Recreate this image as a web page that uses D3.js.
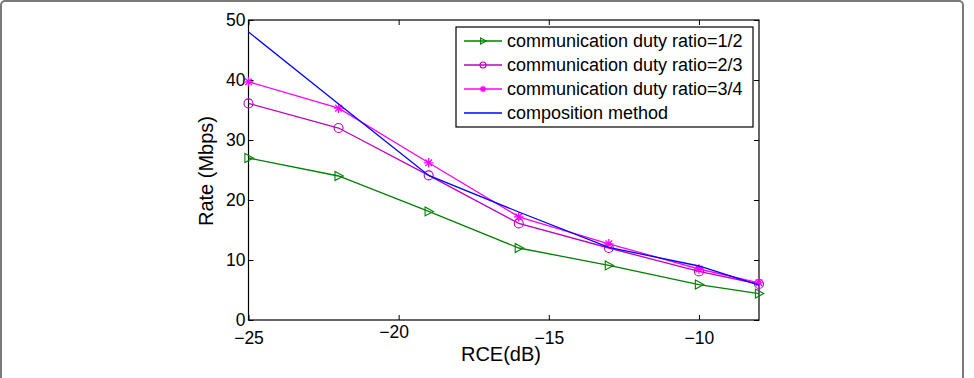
<!DOCTYPE html>
<html>
<head>
<meta charset="utf-8">
<script src="https://cdn.jsdelivr.net/npm/d3@7"></script>
<style>
  body { margin: 0; background: #fff; }
  text { font-family: "Liberation Sans", Arial, Helvetica, sans-serif; fill: #000; }
</style>
</head>
<body>
<div id="main"></div>
<script>
const ctx = {
    SVG_W: 974,
    SVG_H: 378,
};

// data
const rceDb = [-25, -22, -19, -16, -13, -10, -8];
const ratioHalf = [27, 24, 18.1, 12, 9.1, 5.9, 4.4];
const ratioTwoThirds = [36.1, 32, 24.1, 16.1, 12, 8.1, 6];
const ratioThreeQuarters = [39.7, 35.3, 26.2, 17.2, 12.7, 8.5, 6.2];
const composition = [48, 36, 24.1, 18, 12.1, 9, 5.8];
const xTicks = [-25, -20, -15, -10];
const yTicks = [0, 10, 20, 30, 40, 50];
const seriesNames = ["communication duty ratio=1/2", "communication duty ratio=2/3", "communication duty ratio=3/4", "composition method"];

const series = [
    { name: seriesNames[0], values: ratioHalf, color: "#008000", marker: "tri" },
    { name: seriesNames[1], values: ratioTwoThirds, color: "#bf00bf", marker: "circle" },
    { name: seriesNames[2], values: ratioThreeQuarters, color: "#ff00ff", marker: "star" },
    { name: seriesNames[3], values: composition, color: "#0000ff", marker: null },
];

function drawMarker(g, type, x, y, color, s) {
    if (type === "tri") {
        g.append("path")
            .attr("d", `M${x - s * 0.6},${y - s * 0.75}L${x + s * 0.8},${y}L${x - s * 0.6},${y + s * 0.75}Z`)
            .attr("fill", "none").attr("stroke", color).attr("stroke-width", 1.1);
    } else if (type === "circle") {
        g.append("circle").attr("cx", x).attr("cy", y).attr("r", s * 0.75)
            .attr("fill", "none").attr("stroke", color).attr("stroke-width", 1.1);
    } else if (type === "star") {
        const r = s * 0.8, d = r * 0.7;
        g.append("path")
            .attr("d", `M${x - r},${y}L${x + r},${y}M${x},${y - r}L${x},${y + r}` +
                       `M${x - d},${y - d}L${x + d},${y + d}M${x - d},${y + d}L${x + d},${y - d}`)
            .attr("stroke", color).attr("stroke-width", 1.3);
    }
}

function createViz() {
    let svgEl = d3.select("#main").append("svg")
        .attr("width", ctx.SVG_W)
        .attr("height", ctx.SVG_H);

    // outer frame of the figure
    svgEl.append("rect")
        .attr("x", 1).attr("y", 1)
        .attr("width", 962).attr("height", 400)
        .attr("rx", 4)
        .attr("fill", "none")
        .attr("stroke", "#7a7a7a")
        .attr("stroke-width", 2);

    const L = 248.5, R = 759, T = 20, B = 320;
    const x = d3.scaleLinear().domain([-25, -8]).range([L, R]);
    const y = d3.scaleLinear().domain([0, 50]).range([B, T]);

    const tickLen = 5;
    const axes = svgEl.append("g");

    axes.append("g").attr("transform", `translate(0,${B})`)
        .call(d3.axisBottom(x).tickValues(xTicks).tickSizeInner(-tickLen).tickSizeOuter(0)
            .tickFormat(d => "\u2212" + Math.abs(d)));
    axes.append("g").attr("transform", `translate(0,${T})`)
        .call(d3.axisTop(x).tickValues(xTicks).tickSizeInner(-tickLen).tickSizeOuter(0).tickFormat(""));
    axes.append("g").attr("transform", `translate(${L},0)`)
        .call(d3.axisLeft(y).tickValues(yTicks).tickSizeInner(-tickLen).tickSizeOuter(0));
    axes.append("g").attr("transform", `translate(${R},0)`)
        .call(d3.axisRight(y).tickValues(yTicks).tickSizeInner(-tickLen).tickSizeOuter(0).tickFormat(""));

    axes.selectAll(".domain").remove();
    axes.selectAll(".tick line").attr("stroke", "#000").attr("stroke-width", 1);
    axes.selectAll(".tick text")
        .style("font-family", "'Liberation Sans', Arial, sans-serif")
        .style("font-size", "17.5px")
        .attr("fill", "#000");
    axes.selectAll("g").filter(function () { return true; });

    // tweak label offsets (ticks point inward)
    axes.select("g").selectAll(".tick text").attr("y", 12).attr("dy", "0.71em");
    axes.selectAll("g").each(function (d, i) {
        if (i === 2) d3.select(this).selectAll(".tick text").attr("x", -5).attr("dy", "0.35em");
    });

    // plot box
    svgEl.append("rect")
        .attr("x", L).attr("y", T)
        .attr("width", R - L).attr("height", B - T)
        .attr("fill", "none").attr("stroke", "#000").attr("stroke-width", 1.2);

    const line = d3.line().x((d, i) => x(rceDb[i])).y(d => y(d));
    const plot = svgEl.append("g");

    series.forEach(s => {
        plot.append("path")
            .datum(s.values)
            .attr("d", line)
            .attr("fill", "none")
            .attr("stroke", s.color)
            .attr("stroke-width", 1.3);
        if (s.marker) {
            s.values.forEach((v, i) => drawMarker(plot, s.marker, x(rceDb[i]), y(v), s.color, 6));
        }
    });

    // axis labels
    svgEl.append("text")
        .attr("x", 501).attr("y", 361)
        .attr("text-anchor", "middle")
        .style("font-size", "20px")
        .text("RCE(dB)");
    svgEl.append("text")
        .attr("transform", "translate(213,171) rotate(-90)")
        .attr("text-anchor", "middle")
        .style("font-size", "20px")
        .text("Rate (Mbps)");

    // legend
    const lg = svgEl.append("g");
    lg.append("rect")
        .attr("x", 456).attr("y", 27)
        .attr("width", 297).attr("height", 100)
        .attr("fill", "#fff").attr("stroke", "#000").attr("stroke-width", 1.2);
    series.forEach((s, i) => {
        const yy = 41 + i * 24;
        lg.append("line")
            .attr("x1", 464).attr("x2", 502)
            .attr("y1", yy).attr("y2", yy)
            .attr("stroke", s.color).attr("stroke-width", 1.3);
        if (s.marker) drawMarker(lg, s.marker, 483, yy, s.color, 4);
        lg.append("text")
            .attr("x", 507).attr("y", yy)
            .attr("dy", "0.35em")
            .style("font-size", "18px")
            .text(s.name);
    });
}

createViz();
</script>
</body>
</html>
